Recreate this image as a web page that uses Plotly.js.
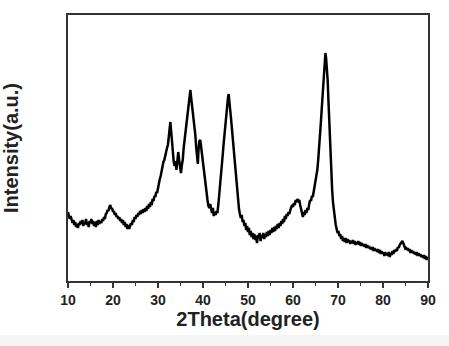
<!DOCTYPE html>
<html>
<head>
<meta charset="utf-8">
<script src="https://cdn.plot.ly/plotly-3.0.1.min.js"></script>
<style>
html,body{margin:0;padding:0;background:#f5f5f5;width:449px;height:346px;overflow:hidden;}
#plot{width:449px;height:335px;background:#fff;}
</style>
</head>
<body>
<div id="plot"></div>
<script>
// 2Theta (degree)
const twoTheta = [
10.0,10.2,10.4,10.6,10.8,11.0,11.2,11.4,11.6,11.8,12.0,12.2,12.4,12.6,12.8,13.0,13.2,13.4,13.6,13.8,
14.0,14.2,14.4,14.6,14.8,15.0,15.2,15.4,15.6,15.8,16.0,16.2,16.4,16.6,16.8,17.0,17.2,17.4,17.6,17.8,
18.0,18.2,18.4,18.6,18.8,19.0,19.2,19.4,19.6,19.8,20.0,20.2,20.4,20.6,20.8,21.0,21.2,21.4,21.6,21.8,
22.0,22.2,22.4,22.6,22.8,23.0,23.2,23.4,23.6,23.8,24.0,24.2,24.4,24.6,24.8,25.0,25.2,25.4,25.6,25.8,
26.0,26.2,26.4,26.6,26.8,27.0,27.2,27.4,27.6,27.8,28.0,28.2,28.4,28.6,28.8,29.0,29.2,29.4,29.6,29.8,
30.0,30.2,30.4,30.6,30.8,31.0,31.2,31.4,31.6,31.8,32.0,32.2,32.4,32.6,32.75,32.9,33.1,33.3,33.5,33.7,
33.9,34.1,34.3,34.5,34.7,34.9,35.1,35.3,35.5,35.7,35.9,36.1,36.3,36.5,36.7,36.9,37.05,37.2,37.35,37.5,
37.7,37.9,38.1,38.3,38.5,38.7,38.85,39.0,39.2,39.4,39.6,39.8,40.0,40.2,40.4,40.6,40.8,41.0,41.2,41.4,
41.6,41.8,42.0,42.2,42.4,42.6,42.8,43.0,43.2,43.4,43.6,43.8,44.0,44.2,44.4,44.6,44.8,45.0,45.2,45.4,
45.55,45.7,45.85,46.0,46.2,46.4,46.6,46.8,47.0,47.2,47.4,47.6,47.8,48.0,48.2,48.4,48.6,48.8,49.0,49.2,
49.4,49.6,49.8,50.0,50.2,50.4,50.6,50.8,51.0,51.2,51.4,51.6,51.8,52.0,52.2,52.4,52.6,52.8,53.0,53.2,
53.4,53.6,53.8,54.0,54.2,54.4,54.6,54.8,55.0,55.2,55.4,55.6,55.8,56.0,56.2,56.4,56.6,56.8,57.0,57.2,
57.4,57.6,57.8,58.0,58.2,58.4,58.6,58.8,59.0,59.2,59.4,59.6,59.8,60.0,60.2,60.4,60.6,60.8,61.0,61.2,
61.4,61.6,61.8,62.0,62.2,62.4,62.6,62.8,63.0,63.2,63.4,63.6,63.8,64.0,64.2,64.4,64.6,64.8,65.0,65.2,
65.4,65.6,65.8,66.0,66.2,66.4,66.6,66.8,67.0,67.2,67.35,67.5,67.7,67.9,68.1,68.3,68.5,68.7,68.9,69.1,
69.3,69.5,69.7,69.9,70.1,70.3,70.5,70.7,70.9,71.1,71.3,71.5,71.7,71.9,72.1,72.3,72.5,72.7,72.9,73.1,
73.3,73.5,73.7,73.9,74.1,74.3,74.5,74.7,74.9,75.1,75.3,75.5,75.7,75.9,76.1,76.3,76.5,76.7,76.9,77.1,
77.3,77.5,77.7,77.9,78.1,78.3,78.5,78.7,78.9,79.1,79.3,79.5,79.7,79.9,80.1,80.3,80.5,80.7,80.9,81.1,
81.3,81.5,81.7,81.9,82.1,82.3,82.5,82.7,82.9,83.1,83.3,83.5,83.7,83.9,84.1,84.3,84.5,84.7,84.9,85.1,
85.3,85.5,85.7,85.9,86.1,86.3,86.5,86.7,86.9,87.1,87.3,87.5,87.7,87.9,88.1,88.3,88.5,88.7,88.9,89.1,
89.3,89.5,89.7,89.9,90.0
];
// Intensity (a.u.)
const intensity = [
69,66,62,65,60,58,61,56,59,54,57,53,58,56,60,57,61,55,59,57,
62,56,59,54,60,58,62,57,60,55,59,54,60,56,61,57,60,58,62,60,
64,62,67,68,71,70,74,76,72,73,69,70,66,68,64,65,62,64,60,62,
58,61,56,59,54,57,52,56,52,55,58,56,61,59,64,62,66,64,68,66,
70,67,71,68,72,69,73,70,75,72,77,74,79,76,82,80,85,84,89,88,
94,97,102,105,111,114,119,121,126,128,133,136,143,153,159,151,138,131,119,115,
120,111,123,129,121,115,108,116,121,133,141,149,157,164,171,177,186,191,184,178,
173,163,155,146,133,121,117,131,140,141,133,124,116,109,101,93,87,81,75,73,
77,71,68,73,65,69,66,70,68,76,85,95,103,115,127,138,149,158,167,176,
183,187,182,173,164,153,141,131,119,107,96,86,78,72,67,63,66,59,61,55,
58,51,55,49,53,46,50,44,48,42,47,41,45,38,46,43,48,40,46,43,
48,42,47,44,49,45,50,46,51,48,53,49,54,50,55,52,57,53,58,55,
60,57,62,59,65,62,67,65,69,67,71,73,76,74,78,76,81,79,82,80,
81,76,72,67,64,69,66,71,68,73,71,77,81,80,85,84,90,93,98,103,
111,121,131,144,159,173,189,203,215,228,223,215,201,178,151,124,105,91,78,68,
62,56,52,48,50,45,47,42,45,40,43,39,43,38,42,39,41,37,40,38,
41,37,40,36,39,37,40,36,39,35,38,35,37,34,37,33,36,33,35,32,
34,31,34,30,33,30,32,29,32,28,31,27,30,27,29,25,29,26,28,25,
29,24,28,26,30,27,31,29,32,30,34,33,36,37,39,40,38,35,33,34,
31,33,30,32,28,31,28,30,27,29,26,29,25,28,25,27,24,26,23,26,
22,25,21,24,22
];
const xTicks = [10,20,30,40,50,60,70,80,90];
const xTitle = '2Theta(degree)';
const yTitle = 'Intensity(a.u.)';

const fontFam = 'Arial, "Liberation Sans", sans-serif';
const trace = {
  x: twoTheta, y: intensity, type: 'scatter', mode: 'lines',
  line: {color: '#000', width: 2.5}, hoverinfo: 'skip'
};
const layout = {
  width: 449, height: 335,
  margin: {l: 68, r: 21, t: 15, b: 54},
  paper_bgcolor: '#fff', plot_bgcolor: '#fff',
  showlegend: false,
  xaxis: {
    range: [10, 90], tickvals: xTicks, ticktext: xTicks.map(String),
    ticks: 'outside', ticklen: 5, tickwidth: 1.5, tickcolor: '#333',
    minor: {tickvals: [15,25,35,45,55,65,75,85], ticks: 'outside', ticklen: 3, tickwidth: 1.5, tickcolor: '#333'},
    showline: true, linewidth: 2, linecolor: '#333', mirror: true,
    showgrid: false, zeroline: false,
    tickfont: {family: fontFam, size: 14, color: '#222', weight: 'bold'},
    title: {text: xTitle, font: {family: fontFam, size: 20, color: '#222', weight: 'bold'}, standoff: 5},
    automargin: false
  },
  yaxis: {
    range: [0, 266], showticklabels: false, ticks: '',
    showline: true, linewidth: 2, linecolor: '#333', mirror: true,
    showgrid: false, zeroline: false,
    title: {text: yTitle, font: {family: fontFam, size: 20, color: '#222', weight: 'bold'}, standoff: 42},
    automargin: false
  }
};
Plotly.newPlot('plot', [trace], layout, {staticPlot: true, displayModeBar: false});
</script>
</body>
</html>
